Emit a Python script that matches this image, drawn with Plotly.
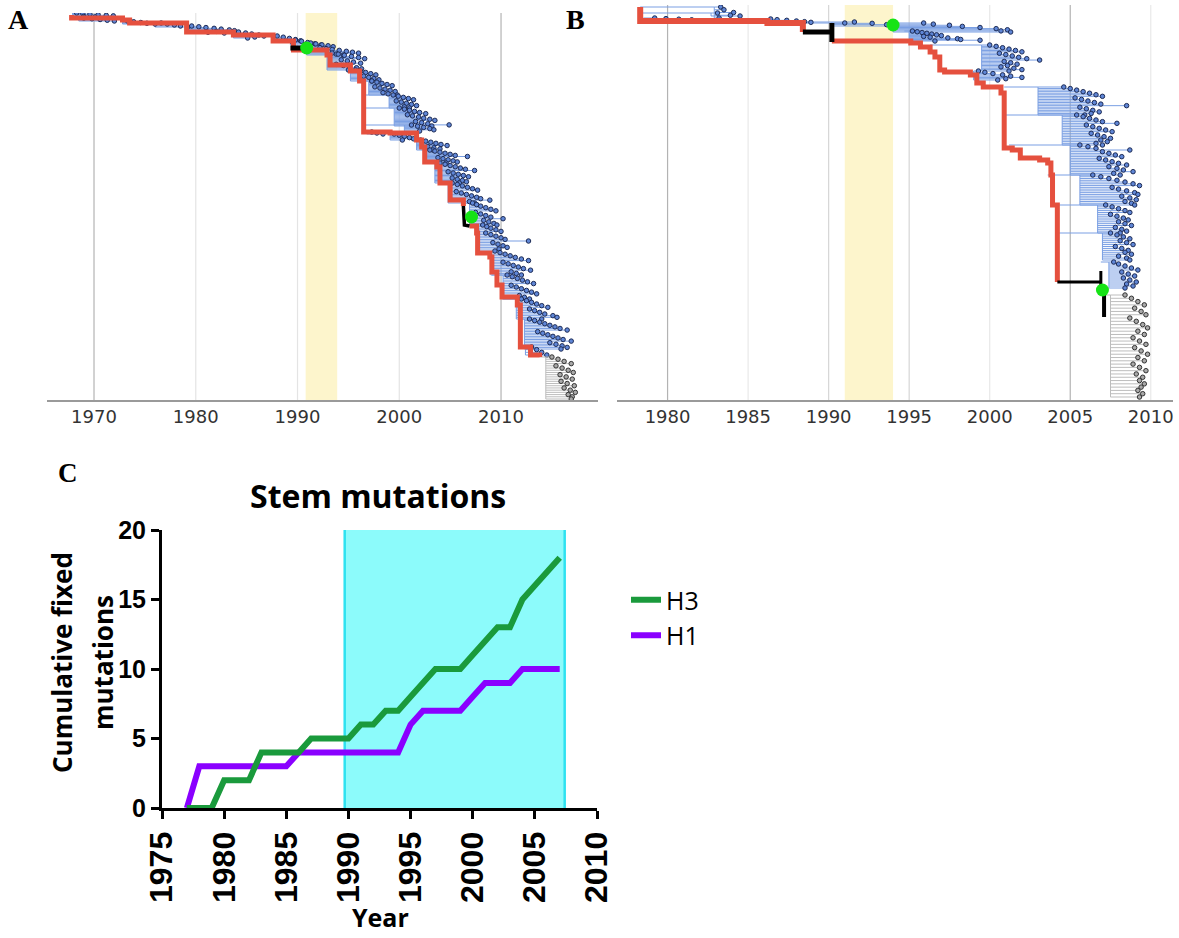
import plotly.graph_objects as go

# ---------------- Panel C : cumulative stem mutations ----------------
c_years = list(range(1977, 2008))
c_h3 = [0, 0, 0, 2, 2, 2, 4, 4, 4, 4, 5, 5, 5, 5, 6, 6, 7, 7, 8, 9, 10, 10, 10, 11, 12, 13, 13, 15, 16, 17, 18]
c_h1 = [0, 3, 3, 3, 3, 3, 3, 3, 3, 4, 4, 4, 4, 4, 4, 4, 4, 4, 6, 7, 7, 7, 7, 8, 9, 9, 9, 10, 10, 10, 10]
c_band = [1989.7, 2007.4]
c_xticks = [1975, 1980, 1985, 1990, 1995, 2000, 2005, 2010]
c_yticks = [0, 5, 10, 15, 20]

# ---------------- Panel A : H3 tree ----------------
a_ticks = [1970, 1980, 1990, 2000, 2010]
a_dark_grid = [1970, 2010]
a_band = [1990.8, 1993.9]
a_trunk1_year = [1967.8, 1967.8, 1972.8, 1973.5, 1979.1, 1983.7, 1987.6, 1989.6, 1992.9, 1993.2, 1995.2,
                 1996.1, 1996.5, 1999.1, 2001.7, 2002.2, 2002.5, 2003.7, 2004.0, 2005.0, 2005.0, 2006.3]
a_trunk1_row = [2, 5, 7, 10, 19, 22, 28, 37, 42, 52, 58, 68, 119, 120, 127, 134, 149, 154, 170, 174, 187, 193]
a_trunk2_year = [2006.9, 2007.6, 2007.7, 2008.9, 2009.1, 2009.6, 2010.1, 2011.6, 2011.9, 2012.9, 2013.8]
a_trunk2_row = [213, 220, 240, 244, 259, 272, 284, 292, 334, 342, 344]
a_black1_year = [1989.3, 1990.9]
a_black1_row = [35, 35]
a_black2_year = [2006.3, 2006.4, 2006.9]
a_black2_row = [193, 212, 213]
a_green_year = [1990.9, 2007.1]
a_green_row = [35, 204]
a_clade_node = [1967.9, 1968.5, 1972.8, 1976.0, 1979.1, 1983.7, 1987.6, 1989.3, 1990.9, 1992.9, 1995.2, 1996.1,
                1996.4, 1996.5, 1996.6, 1996.8, 1999.1, 2001.7, 2002.2, 2002.5, 2004.0, 2006.3, 2007.2, 2007.7,
                2009.1, 2010.1, 2011.9, 2012.0]
a_clade_sub = [1967.9, 1968.5, 1972.8, 1976.0, 1979.1, 1983.7, 1987.6, 1989.3, 1990.9, 1992.9, 1995.2, 1997.0,
               1999.0, 1999.5, 2000.5, 1996.8, 1999.1, 2001.7, 2002.6, 2003.5, 2004.8, 2006.9, 2007.8, 2009.0,
               2010.2, 2011.5, 2012.3, 2012.4]
a_clade_top = [0, 5, 8, 10, 13, 19, 23, 27, 30, 40, 57, 68, 82, 95, 112, 119, 121, 127, 137, 150, 170, 190,
               212, 238, 262, 286, 306, 334]
a_clade_bottom = [4, 8, 11, 14, 20, 25, 29, 32, 42, 57, 68, 82, 95, 113, 118, 121, 127, 137, 150, 170, 190, 212,
                  236, 262, 286, 306, 336, 342]
a_clade_tips = [
    [1968.3, 1968.9, 1969.6, 1970.4, 1971.2, 1971.9, 1969.0, 1970.1],
    [1969.0, 1969.8, 1970.6, 1971.3, 1972.0],
    [1973.3, 1973.9, 1974.6, 1975.2, 1976.0],
    [1976.6, 1977.2, 1977.9, 1978.5, 1979.2],
    [1979.6, 1980.3, 1981.0, 1981.8, 1982.5, 1983.3, 1983.8, 1982.0, 1981.2, 1982.8],
    [1984.2, 1984.9, 1985.5, 1986.2, 1986.7, 1985.8, 1985.1],
    [1988.0, 1988.6, 1989.2, 1989.8, 1990.3, 1989.5],
    [1989.8, 1990.4, 1991.0, 1991.7, 1992.3],
    [1991.3, 1991.8, 1992.4, 1993.0, 1993.5, 1992.2, 1992.8, 1993.4, 1994.1, 1994.8, 1995.4, 1996.0, 1993.8, 1994.5],
    [1993.4, 1994.0, 1994.6, 1995.3, 1996.0, 1996.6, 1994.3, 1994.9, 1995.5, 1996.2, 1993.8, 1994.5, 1995.1,
     1995.8, 1996.3, 1995.0],
    [1995.7, 1996.2, 1996.7, 1997.2, 1997.7, 1996.5, 1997.0, 1997.5, 1998.0, 1997.3],
    [1997.3, 1997.8, 1998.3, 1998.8, 1999.3, 1997.6, 1998.1, 1998.6, 1999.1, 1999.6, 1998.4, 1998.9, 1999.8],
    [1999.4, 1999.9, 2000.4, 2000.9, 2001.4, 1999.7, 2000.2, 2000.7, 2001.2, 2001.7, 2000.5, 2001.0],
    [2000.0, 2000.5, 2001.0, 2001.5, 2002.0, 2002.6, 2000.8, 2001.3, 2001.9, 2002.4, 2003.0, 2003.5, 2001.6,
     2002.2, 2002.8, 2004.9, 2003.2],
    [2001.2, 2001.8, 2002.4, 2003.0, 2003.4, 2002.0],
    [1997.3, 1997.8, 1998.4],
    [1999.5, 2000.0, 2000.5, 2001.0, 2001.4, 2000.3],
    [2002.1, 2002.6, 2003.1, 2003.6, 2004.1, 2004.7, 2002.8, 2003.4, 2004.0, 2003.3],
    [2003.0, 2003.5, 2004.0, 2004.5, 2005.0, 2005.5, 2006.7, 2003.8, 2004.3, 2004.8, 2005.3, 2005.7, 2004.6],
    [2004.0, 2004.5, 2005.0, 2005.5, 2006.0, 2006.5, 2007.4, 2004.8, 2005.3, 2005.8, 2006.3, 2006.8, 2005.2,
     2005.7, 2006.2, 2006.6, 2005.9],
    [2005.2, 2005.7, 2006.2, 2006.7, 2007.2, 2007.7, 2005.6, 2006.1, 2006.6, 2007.1, 2007.6, 2008.0, 2008.9,
     2006.9, 2007.4],
    [2007.2, 2007.6, 2008.0, 2008.5, 2009.0, 2009.5, 2007.5, 2008.0, 2008.5, 2009.0, 2010.2, 2008.3, 2008.8,
     2009.3, 2009.6],
    [2008.2, 2008.6, 2009.0, 2009.5, 2010.0, 2008.5, 2009.0, 2009.5, 2010.0, 2010.4, 2012.7, 2009.2, 2009.7,
     2010.2, 2010.6, 2009.8],
    [2009.4, 2009.9, 2010.4, 2010.9, 2011.4, 2012.0, 2012.7, 2010.2, 2010.7, 2011.2, 2011.7, 2012.2, 2012.9,
     2011.0, 2011.5, 2012.0],
    [2010.6, 2011.1, 2011.6, 2012.1, 2012.6, 2013.2, 2011.0, 2011.5, 2012.0, 2012.5, 2013.0, 2013.5, 2011.8,
     2012.3, 2012.8],
    [2012.0, 2012.5, 2013.0, 2013.5, 2014.0, 2014.6, 2012.8, 2013.3, 2013.8, 2014.3, 2015.1, 2015.5, 2014.0],
    [2012.8, 2013.3, 2013.8, 2014.3, 2014.8, 2015.3, 2015.8, 2016.5, 2013.6, 2014.1, 2014.6, 2015.1, 2015.6,
     2016.1, 2016.9, 2014.8, 2015.4, 2016.0, 2016.5, 2015.9],
    [2013.0, 2013.5, 2014.0, 2014.5],
]
a_gray_node = [2013.8]
a_gray_sub = [2014.4]
a_gray_top = [344]
a_gray_bottom = [386]
a_gray_tips = [[2015.0, 2015.6, 2016.2, 2016.9, 2015.4, 2016.0, 2016.6, 2017.1, 2015.8, 2016.4, 2017.0, 2015.9,
                2016.5, 2017.2, 2016.2, 2016.8, 2017.3, 2016.6, 2017.0, 2016.9]]

# ---------------- Panel B : H1 tree ----------------
b_ticks = [1980, 1985, 1990, 1995, 2000, 2005, 2010]
b_dark_grid = [1980, 2005]
b_mid_grid = [1990, 1995]
b_band = [1991.0, 1994.0]
b_trunk1_year = [1978.3, 1978.3, 1986.2, 1988.4, 1988.4]
b_trunk1_row = [2, 16, 18, 21, 27]
b_trunk2_year = [1990.2, 1995.1, 1995.7, 1996.3, 1996.6, 1996.9, 1997.2, 1998.8, 1999.2, 1999.6, 2000.7,
                 2000.9, 2001.4, 2001.9, 2003.1, 2003.6, 2003.8, 2003.9, 2004.2]
b_trunk2_row = [36, 38, 42, 47, 52, 65, 67, 70, 78, 82, 88, 143, 145, 153, 155, 158, 170, 200, 277]
b_black1_year = [1988.4, 1990.2, None, 1990.2, 1990.2]
b_black1_row = [27, 27, None, 18, 37]
b_black2_year = [2004.2, 2006.9, None, 2006.9, 2006.9]
b_black2_row = [277, 277, None, 266, 288]
b_black3_year = [2007.1, 2007.1]
b_black3_row = [287, 312]
b_green_year = [1994.0, 2007.0]
b_green_row = [20, 285]
b_clade_node = [1978.3, 1978.3, 1978.5, 1986.2, 1988.4, 1994.0, 1994.7, 1996.3, 1999.0, 2000.9, 2001.0, 2001.2,
                2003.6, 2004.0, 2004.1, 2006.9]
b_clade_sub = [1982.9, 1982.7, 1978.5, 1986.2, 1990.2, 1994.0, 1995.0, 1999.5, 1999.0, 2003.0, 2004.5, 2005.0,
               2005.6, 2006.7, 2007.0, 2007.4]
b_clade_top = [2, 8, 13, 14, 17, 18, 26, 40, 66, 82, 110, 140, 170, 200, 228, 257]
b_clade_bottom = [13, 11, 16, 18, 21, 27, 36, 66, 75, 110, 140, 170, 200, 228, 255, 283]
b_clade_tips = [
    [1983.3, 1983.5, 1984.1, 1983.9, 1983.2],
    [1983.1, 1984.5],
    [1979.2, 1979.9, 1980.7, 1981.5, 1983.2, 1985.0],
    [1986.4, 1986.8, 1987.4, 1988.0, 1988.5, 1988.9, 1991.0],
    [1991.6, 1992.7, 1993.6, 1994.0],
    [1995.9, 1996.5, 1997.5, 1998.3, 1999.4, 2000.4, 2001.1, 2000.7, 2001.3],
    [1995.2, 1995.5, 1995.8, 1996.1, 1996.4, 1996.7, 1997.0, 1995.9, 1996.3, 1997.4, 1998.0, 1998.2, 1999.4,
     1996.6],
    [2000.0, 2000.4, 2000.8, 2001.2, 2001.6, 2002.0, 2000.6, 2001.0, 2001.4, 2001.8, 2002.3, 2003.1, 2000.9,
     2001.3, 2001.7, 2001.1, 2000.7, 2001.5, 2002.0, 2001.2],
    [1999.3, 1999.7, 2000.2, 2000.8, 2001.3, 2002.0, 2001.0, 2000.5],
    [2004.6, 2005.0, 2005.4, 2005.8, 2006.2, 2006.6, 2007.0, 2005.3, 2005.7, 2006.1, 2006.5, 2006.9, 2008.5,
     2005.6, 2006.0, 2006.4, 2006.8, 2006.3, 2005.9],
    [2005.4, 2005.8, 2006.2, 2006.6, 2007.0, 2007.9, 2006.0, 2006.4, 2006.8, 2007.2, 2007.6, 2006.3, 2006.7,
     2007.1, 2007.5, 2006.9, 2007.3, 2006.6, 2007.0],
    [2005.6, 2006.1, 2006.6, 2008.7, 2007.0, 2007.4, 2007.8, 2008.2, 2006.8, 2007.2, 2007.6, 2008.0, 2008.5,
     2007.4, 2007.9, 2008.3, 2008.9, 2007.7, 2008.1],
    [2006.4, 2006.9, 2007.4, 2007.9, 2008.4, 2008.9, 2009.3, 2007.6, 2008.0, 2008.5, 2009.0, 2009.2, 2008.2,
     2008.7, 2009.1, 2008.4, 2008.8, 2009.0],
    [2007.2, 2007.6, 2008.0, 2008.4, 2008.7, 2007.5, 2007.9, 2008.3, 2008.6, 2008.0, 2008.4, 2008.8, 2007.8,
     2008.2, 2008.5, 2008.1],
    [2007.5, 2007.9, 2008.3, 2008.7, 2008.1, 2008.5, 2008.9, 2007.8, 2008.2, 2008.6, 2008.4, 2008.8, 2008.0,
     2008.5, 2008.7],
    [2007.7, 2008.0, 2008.4, 2008.8, 2009.2, 2008.2, 2008.6, 2009.0, 2008.3, 2008.7, 2009.1, 2008.5, 2008.9,
     2008.4],
]
b_gray_node = [2007.1]
b_gray_sub = [2007.5]
b_gray_top = [290]
b_gray_bottom = [392]
b_gray_tips = [[2008.4, 2008.8, 2009.2, 2009.6, 2009.0, 2009.4, 2009.7, 2008.7, 2009.1, 2009.5, 2009.8, 2009.2,
                2009.6, 2008.9, 2009.3, 2009.7, 2009.0, 2009.4, 2009.8, 2009.2, 2009.6, 2008.9, 2009.3, 2009.7,
                2009.1, 2009.5, 2009.3, 2009.6, 2009.4, 2009.2, 2009.5, 2009.3]]

# ---------------- styles ----------------
RED = "#e5503e"
BLUE_LINE = "#7a9fe3"
BLUE_DOT = "#5f86d6"
DOT_EDGE = "#1d2b55"
GRAY_LINE = "#bdbdbd"
GRAY_DOT = "#a9a9a9"
GREEN_DOT = "#16e316"

fig = go.Figure()


def add_clades(xa, ya, nodes, subs, tops, bots, tips, lcolor, dfill, dedge):
    lx, ly, dx, dy = [], [], [], []
    for nd, sb, t, b, tp in zip(nodes, subs, tops, bots, tips):
        n = len(tp)
        rows = [t + (b - t) * k / (n - 1) for k in range(n)] if n > 1 else [t]
        lx += [nd, sb, None, sb, sb, None]
        ly += [t, t, None, t, b, None]
        for r, yr in zip(rows, tp):
            lx += [sb, yr, None]
            ly += [r, r, None]
            dx.append(yr)
            dy.append(r)
    fig.add_trace(go.Scatter(x=lx, y=ly, mode="lines", line=dict(color=lcolor, width=1),
                             xaxis=xa, yaxis=ya, showlegend=False, hoverinfo="skip"))
    fig.add_trace(go.Scatter(x=dx, y=dy, mode="markers",
                             marker=dict(size=4.5, color=dfill, line=dict(color=dedge, width=1)),
                             xaxis=xa, yaxis=ya, showlegend=False, hoverinfo="skip"))


def add_path(xa, ya, xs, ys, color, width, shape="linear"):
    fig.add_trace(go.Scatter(x=xs, y=ys, mode="lines", line=dict(color=color, width=width, shape=shape),
                             xaxis=xa, yaxis=ya, showlegend=False, hoverinfo="skip"))


# Tree A
add_clades("x", "y", a_clade_node, a_clade_sub, a_clade_top, a_clade_bottom, a_clade_tips,
           BLUE_LINE, BLUE_DOT, DOT_EDGE)
add_clades("x", "y", a_gray_node, a_gray_sub, a_gray_top, a_gray_bottom, a_gray_tips,
           GRAY_LINE, GRAY_DOT, "#333333")
add_path("x", "y", a_trunk1_year, a_trunk1_row, RED, 5, "hv")
add_path("x", "y", a_trunk2_year, a_trunk2_row, RED, 5, "hv")
add_path("x", "y", a_black1_year, a_black1_row, "black", 5)
add_path("x", "y", a_black2_year, a_black2_row, "black", 3.5)
fig.add_trace(go.Scatter(x=a_green_year, y=a_green_row, mode="markers",
                         marker=dict(size=13, color=GREEN_DOT), xaxis="x", yaxis="y",
                         showlegend=False, hoverinfo="skip"))

# Tree B
add_clades("x2", "y2", b_clade_node, b_clade_sub, b_clade_top, b_clade_bottom, b_clade_tips,
           BLUE_LINE, BLUE_DOT, DOT_EDGE)
add_clades("x2", "y2", b_gray_node, b_gray_sub, b_gray_top, b_gray_bottom, b_gray_tips,
           GRAY_LINE, GRAY_DOT, "#333333")
add_path("x2", "y2", b_trunk1_year, b_trunk1_row, RED, 6, "hv")
add_path("x2", "y2", b_trunk2_year, b_trunk2_row, RED, 5, "hv")
add_path("x2", "y2", b_black1_year, b_black1_row, "black", 5)
add_path("x2", "y2", b_black2_year, b_black2_row, "black", 3)
add_path("x2", "y2", b_black3_year, b_black3_row, "black", 4)
fig.add_trace(go.Scatter(x=b_green_year, y=b_green_row, mode="markers",
                         marker=dict(size=13, color=GREEN_DOT), xaxis="x2", yaxis="y2",
                         showlegend=False, hoverinfo="skip"))

# Panel C lines
fig.add_trace(go.Scatter(x=c_years, y=c_h1, mode="lines", name="H1",
                         line=dict(color="#8a00ff", width=6), xaxis="x3", yaxis="y3", legendrank=2))
fig.add_trace(go.Scatter(x=c_years, y=c_h3, mode="lines", name="H3",
                         line=dict(color="#1a9a3c", width=6), xaxis="x3", yaxis="y3", legendrank=1))

shapes = []
shapes.append(dict(type="rect", xref="x", yref="y domain", x0=a_band[0], x1=a_band[1], y0=0, y1=1,
                   fillcolor="#fdf5cc", line=dict(width=0), layer="below"))
shapes.append(dict(type="rect", xref="x2", yref="y2 domain", x0=b_band[0], x1=b_band[1], y0=0, y1=1,
                   fillcolor="#fdf5cc", line=dict(width=0), layer="below"))
for yr in a_ticks:
    col = "#b3b3b3" if yr in a_dark_grid else "#e4e4e4"
    shapes.append(dict(type="line", xref="x", yref="y domain", x0=yr, x1=yr, y0=0, y1=1,
                       line=dict(color=col, width=1.2), layer="below"))
for yr in b_ticks:
    col = "#b3b3b3" if yr in b_dark_grid else ("#d6d6d6" if yr in b_mid_grid else "#e8e8e8")
    shapes.append(dict(type="line", xref="x2", yref="y2 domain", x0=yr, x1=yr, y0=0, y1=1,
                       line=dict(color=col, width=1.2), layer="below"))
shapes.append(dict(type="rect", xref="x3", yref="y3", x0=c_band[0], x1=c_band[1], y0=0, y1=20,
                   fillcolor="#8cfbfb", line=dict(width=0), layer="below"))
for xv in c_band:
    shapes.append(dict(type="line", xref="x3", yref="y3", x0=xv, x1=xv, y0=0, y1=20,
                       line=dict(color="#2ee2f0", width=2.5), layer="below"))

tick_font_tree = dict(family="DejaVu Sans", size=18, color="#333333")
W, H = 1179, 938


def ann(text, px, py, size, family, angle=0, bold=True):
    return dict(text=text, x=px / W, y=1 - py / H, xref="paper", yref="paper", showarrow=False,
                xanchor="center", yanchor="middle", textangle=angle,
                font=dict(family=family, size=size, color="black", weight="bold" if bold else "normal"))


annotations = [
    ann("A", 18, 19, 28, "Liberation Serif"),
    ann("B", 575, 19, 28, "Liberation Serif"),
    ann("C", 68, 473, 27, "Liberation Serif"),
    ann("Stem mutations", 378, 495, 32, "Open Sans"),
    ann("Year", 380, 917, 25, "Open Sans"),
    ann("Cumulative fixed", 62, 663, 26, "Open Sans", -90),
    ann("mutations", 103, 663, 26, "Open Sans", -90),
]

fig.update_layout(
    width=W, height=H, margin=dict(l=0, r=0, t=0, b=0, autoexpand=False),
    paper_bgcolor="white", plot_bgcolor="rgba(0,0,0,0)",
    shapes=shapes, annotations=annotations,
    showlegend=True,
    legend=dict(x=626 / W, y=1 - 577 / H, xanchor="left", yanchor="top", bgcolor="rgba(0,0,0,0)",
                font=dict(family="Open Sans", size=25, color="black"), tracegroupgap=0),
    xaxis=dict(domain=[47 / W, 598 / W], range=[1965.38, 2019.53], tickvals=a_ticks, showgrid=False,
               zeroline=False, showline=True, linecolor="#9a9a9a", linewidth=1.5, ticks="",
               tickfont=tick_font_tree, anchor="y", automargin=False),
    yaxis=dict(domain=[1 - 400 / H, 1 - 13 / H], range=[387, 0], visible=False, anchor="x", automargin=False),
    xaxis2=dict(domain=[617 / W, 1173 / W], range=[1976.86, 2011.38], tickvals=b_ticks, showgrid=False,
                zeroline=False, showline=True, linecolor="#9a9a9a", linewidth=1.5, ticks="",
                tickfont=tick_font_tree, anchor="y2", automargin=False),
    yaxis2=dict(domain=[1 - 400 / H, 1 - 5 / H], range=[395, 0], visible=False, anchor="x2", automargin=False),
    xaxis3=dict(domain=[162 / W, 597 / W], range=[1975, 2010], tickvals=c_xticks, tickangle=-90,
                showgrid=False, zeroline=False, showline=True, linecolor="black", linewidth=3,
                ticks="outside", ticklen=8, tickwidth=3, tickcolor="black", automargin=False,
                tickfont=dict(family="Liberation Sans", size=32, color="black", weight="bold"), anchor="y3"),
    yaxis3=dict(domain=[1 - 808 / H, 1 - 530 / H], range=[0, 20], tickvals=c_yticks, showgrid=False,
                zeroline=False, showline=True, linecolor="black", linewidth=3, automargin=False,
                ticks="outside", ticklen=8, tickwidth=3, tickcolor="black",
                tickfont=dict(family="Liberation Sans", size=25, color="black", weight="bold"), anchor="x3"),
)

fig.write_html("out.html")
